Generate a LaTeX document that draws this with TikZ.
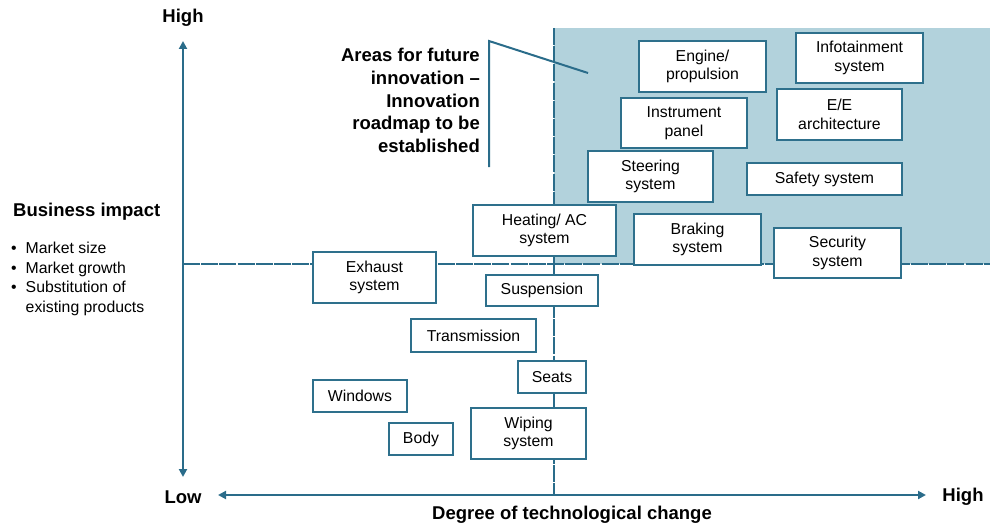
\documentclass[tikz,border=0pt]{standalone}
\usepackage{fontspec}
\setmainfont{Liberation Sans}
\usetikzlibrary{arrows.meta}
\definecolor{shadecol}{RGB}{178,210,220}
\definecolor{axiscol}{RGB}{42,108,138}
\definecolor{boxline}{RGB}{46,112,140}
\tikzset{
  itembox/.style={draw=boxline, line width=1.3pt, fill=white, inner sep=0pt, align=center,
    font=\fontsize{15.8}{18.5}\selectfont},
  gridline/.style={draw=axiscol, line width=1.3pt, dash pattern=on 17pt off 1.2pt},
  axisline/.style={draw=axiscol, line width=2pt, {Triangle[length=8pt,width=8pt]}-{Triangle[length=8pt,width=8pt]}},
  boldlabel/.style={font=\bfseries\fontsize{18.5}{22.75}\selectfont, inner sep=0pt},
  calloutline/.style={draw=axiscol, line width=2pt}
}
\begin{document}
\begin{tikzpicture}[x=1pt,y=-1pt]
\useasboundingbox (0,0) rectangle (990,527);
% shaded area
\fill[shadecol] (554,28) rectangle (990,264);
% grid lines
\coordinate (hl) at (183,264);
\coordinate (hr) at (990,264);
\coordinate (vt) at (554,28);
\coordinate (vb) at (554,495);
\draw[gridline] (hl) -- (hr);
\draw[gridline] (vt) -- (vb);
% axes
\coordinate (yb) at (183,477);
\coordinate (yt) at (183,41);
\coordinate (xl) at (218,495);
\coordinate (xr) at (926,495);
\draw[axisline] (yb) -- (yt);
\draw[axisline] (xl) -- (xr);
% axis labels
\node[boldlabel] (hightop) at (183,18) {High};
\node[boldlabel] (low) at (183,497) {Low};
\node[boldlabel] (highright) at (963,497) {High};
\node[boldlabel] (xlabel) at (572,515) {Degree of technological change};
\node[boldlabel, anchor=west] (ylabel) at (13,212) {Business impact};
\node[anchor=north west, inner sep=0pt, font=\fontsize{15.8}{19.5}\selectfont] (bullets) at (11,240)
  {\begin{tabular}{@{}l@{\hskip 9pt}l@{}}
   \textbullet & Market size\\
   \textbullet & Market growth\\
   \textbullet & Substitution of\\
               & existing products
   \end{tabular}};
% items
\node[itembox, minimum width=127pt, minimum height=51pt] (eng) at (702.5,66.5) {Engine/\\propulsion};
\node[itembox, minimum width=127pt, minimum height=50pt] (info) at (859.5,58) {Infotainment\\system};
\node[itembox, minimum width=126pt, minimum height=50pt] (instr) at (684,123) {Instrument\\panel};
\node[itembox, minimum width=125pt, minimum height=51pt] (ee) at (839.5,114.5) {E/E\\architecture};
\node[itembox, minimum width=125pt, minimum height=51pt] (steer) at (650.5,176.5) {Steering\\system};
\node[itembox, minimum width=155pt, minimum height=32pt] (safety) at (824.5,179) {Safety system};
\node[itembox, minimum width=143pt, minimum height=51pt] (heat) at (544.5,230.5) {Heating/ AC\\system};
\node[itembox, minimum width=127pt, minimum height=51pt] (brake) at (697.5,239.5) {Braking\\system};
\node[itembox, minimum width=127pt, minimum height=50pt] (secur) at (837.5,253) {Security\\system};
\node[itembox, minimum width=123pt, minimum height=51pt] (exhaust) at (374.5,277.5) {Exhaust\\system};
\node[itembox, minimum width=112pt, minimum height=31pt] (susp) at (542,290.5) {Suspension};
\node[itembox, minimum width=125pt, minimum height=33pt] (trans) at (473.5,335.5) {Transmission};
\node[itembox, minimum width=68pt, minimum height=32pt] (seats) at (552,377) {Seats};
\node[itembox, minimum width=94pt, minimum height=32pt] (windows) at (360,396) {Windows};
\node[itembox, minimum width=64pt, minimum height=32pt] (body) at (421,439) {Body};
\node[itembox, minimum width=115pt, minimum height=51pt] (wiping) at (528.5,433.5) {Wiping\\system};
% callout
\node[boldlabel, anchor=east, align=right] (callout) at (480,100.5)
  {Areas for future\\innovation --\\Innovation\\roadmap to be\\established};
\coordinate (ctop) at (489,41);
\coordinate (cbot) at (489,167);
\coordinate (ctip) at (588,73);
\draw[calloutline] (cbot) -- (ctop) -- (ctip);
\end{tikzpicture}
\end{document}
